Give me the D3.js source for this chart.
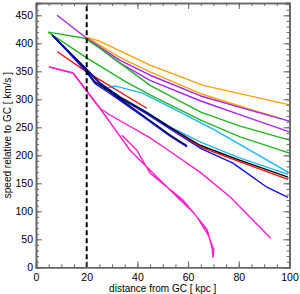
<!DOCTYPE html>
<html>
<head>
<meta charset="utf-8">
<script src="https://cdn.jsdelivr.net/npm/d3@7"></script>
<style>
  body { margin: 0; background: #fff; }
  svg text { font-family: "Liberation Sans", Arial, sans-serif; fill: #000; }
</style>
</head>
<body>
<svg id="chart" width="300" height="294"></svg>
<script>
// values: [distance kpc, speed km/s]
const orangeA = [[20,411],[25,404],[45,361],[66,325],[100,290]];
const orangeB = [[20,411],[33,375],[45,349],[65,310],[84,283],[97,265]];
const purpleA = [[8.3,450],[20,409],[33,370],[45,343],[65,306],[84,281],[100,261]];
const purpleB = [[20,409],[33,365],[45,334],[65,297],[84,267],[100,242]];
const greenA = [[4.8,420],[19.3,409],[25,392],[33,365],[45,325],[65,277],[80.5,252],[100,227]];
const greenB = [[4.8,420],[20,374],[35.5,331],[45,308],[65,263],[80.5,233],[100,204]];
const cyanA = [[6.7,413],[19.3,356],[25,330],[28,320],[31,324],[42,311],[53,286],[70.6,245],[99.4,170]];
const cyanB = [[6.7,413],[19.3,357],[25.2,330],[33.1,305],[43.4,278],[52.9,251],[64.7,224],[80,196],[99.4,166]];
const blackLong = [[6.7,413],[19.3,357],[25.2,329],[33.1,304],[43.4,277],[52.9,250],[64.7,218],[80,192],[99.4,161]];
const redLong = [[6.7,413],[19.3,356],[25.2,328],[33.1,303],[43.4,276],[52.9,249],[64.7,215],[80,189],[99.4,157]];
const blueLong = [[6.7,413],[19.3,356],[25.2,328],[33.1,302],[43.4,275],[52.9,247],[64.7,213],[77.7,186],[91.1,143],[99.4,125]];
const redShort = [[8.4,385],[20,349],[43.7,284]];
const blackShort = [[6.7,413],[19.3,354],[23.3,331],[28,317],[41,275],[52.9,236],[59.6,217]];
const blueShort = [[6.2,416],[19.3,352],[23.3,328],[28,314],[41,273],[52.9,234],[59.6,215]];
const magentaA = [[5.1,358],[14.6,347],[25.2,284],[37.1,209],[44.2,177],[56,124],[61.9,99],[67.5,67],[69.4,36],[69.8,18],
                  [70.2,31],[67.9,58],[63.5,90],[58,120],[45,168],[39.8,209],[33.9,236]];
const magentaB = [[5.1,358],[14.6,347],[25.2,284],[29.2,272],[45,231],[50.9,213],[64.7,170],[76.5,126],[92.6,52]];

const series = [
  {pts: orangeA, color: "#ffa100"},
  {pts: orangeB, color: "#ffa100"},
  {pts: purpleA, color: "#a824f0"},
  {pts: purpleB, color: "#a824f0"},
  {pts: greenA, color: "#22b422"},
  {pts: greenB, color: "#22b422"},
  {pts: magentaA, color: "#ff1ecc"},
  {pts: magentaB, color: "#ff1ecc"},
  {pts: cyanA, color: "#1cb4ff"},
  {pts: cyanB, color: "#1cb4ff"},
  {pts: redShort, color: "#ff1010"},
  {pts: redLong, color: "#ff1010"},
  {pts: blackLong, color: "#000000"},
  {pts: blueLong, color: "#1010ee"},
  {pts: blackShort, color: "#000000"},
  {pts: blueShort, color: "#1010ee"}
];

const xTicks = [0, 20, 40, 60, 80, 100];
const yTicks = [0, 50, 100, 150, 200, 250, 300, 350, 400, 450];
const cutLine = 20;

const svg = d3.select("#chart");
const padL = 36, padR = 289.5, padT = 3, padB = 267.3;

const x = d3.scaleLinear().domain([0, 100]).range([padL, padR]);
const y = d3.scaleLinear().domain([0, 472]).range([padB, padT]);

// lines
const line = d3.line().x(d => x(d[0])).y(d => y(d[1]));
svg.append("g")
  .selectAll("path")
  .data(series)
  .join("path")
  .attr("d", d => line(d.pts))
  .attr("fill", "none")
  .attr("stroke", d => d.color)
  .attr("stroke-width", 1.4)
  .attr("stroke-linejoin", "round");

// dashed marker line
svg.append("line")
  .attr("x1", x(cutLine)).attr("x2", x(cutLine))
  .attr("y1", y(0)).attr("y2", y(472))
  .attr("stroke", "#000")
  .attr("stroke-width", 2)
  .attr("stroke-dasharray", "5,3");

// frame with inward ticks on all four sides
const axisColor = "#666";
const xMinor = d3.range(0, 101, 5);
const yMinor = d3.range(0, 471, 10);

const frame = svg.append("g");
frame.append("g").attr("transform", `translate(0,${padB})`)
  .call(d3.axisBottom(x).tickValues(xTicks).tickSize(-6).tickPadding(6).tickFormat(d3.format("d")));
frame.append("g").attr("transform", `translate(0,${padT})`)
  .call(d3.axisTop(x).tickValues(xTicks).tickSize(-6).tickFormat(""));
frame.append("g").attr("transform", `translate(${padL},0)`)
  .call(d3.axisLeft(y).tickValues(yTicks).tickSize(-6).tickPadding(3).tickFormat(d3.format("d")));
frame.append("g").attr("transform", `translate(${padR},0)`)
  .call(d3.axisRight(y).tickValues(yTicks).tickSize(-6).tickFormat(""));

frame.append("g").attr("transform", `translate(0,${padB})`)
  .call(d3.axisBottom(x).tickValues(xMinor).tickSize(-3).tickFormat(""));
frame.append("g").attr("transform", `translate(0,${padT})`)
  .call(d3.axisTop(x).tickValues(xMinor).tickSize(-3).tickFormat(""));
frame.append("g").attr("transform", `translate(${padL},0)`)
  .call(d3.axisLeft(y).tickValues(yMinor).tickSize(-3).tickFormat(""));
frame.append("g").attr("transform", `translate(${padR},0)`)
  .call(d3.axisRight(y).tickValues(yMinor).tickSize(-3).tickFormat(""));

frame.selectAll(".domain").attr("stroke", axisColor).attr("stroke-width", 1.6);
frame.selectAll(".tick line").attr("stroke", axisColor);
frame.selectAll(".tick text").attr("font-size", 10.5).attr("fill", "#000");

// axis titles
svg.append("text")
  .attr("x", (padL + padR) / 2)
  .attr("y", 292)
  .attr("text-anchor", "middle")
  .attr("font-size", 10)
  .text("distance from GC [ kpc ]");

svg.append("text")
  .attr("transform", `translate(11,${(padT + padB) / 2}) rotate(-90)`)
  .attr("text-anchor", "middle")
  .attr("font-size", 10)
  .text("speed relative to GC [ km/s ]");
</script>
</body>
</html>
